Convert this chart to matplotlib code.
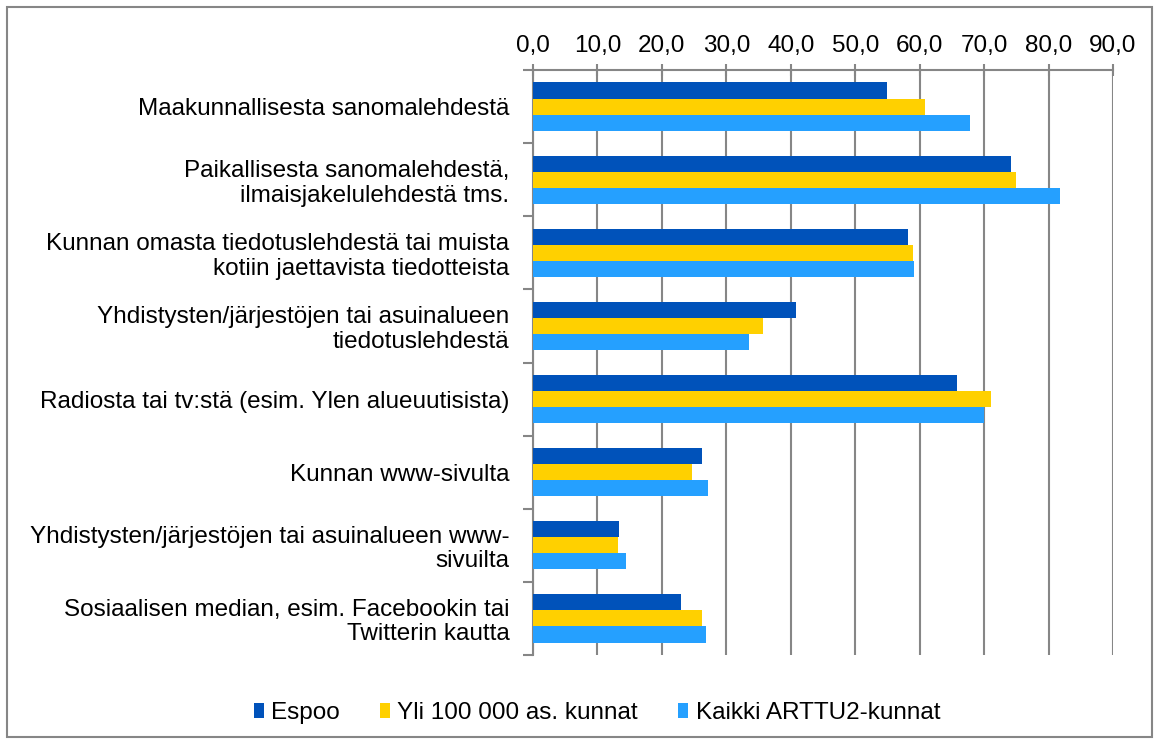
import numpy as np
import matplotlib.pyplot as plt
from matplotlib.patches import Rectangle

plt.rcParams['font.family'] = ['Liberation Sans', 'DejaVu Sans']

# Kategoriat ja arvot (%)
categories = [
    "Maakunnallisesta sanomalehdestä",
    "Paikallisesta sanomalehdestä,\nilmaisjakelulehdestä tms.",
    "Kunnan omasta tiedotuslehdestä tai muista\nkotiin jaettavista tiedotteista",
    "Yhdistysten/järjestöjen tai asuinalueen\ntiedotuslehdestä",
    "Radiosta tai tv:stä (esim. Ylen alueuutisista)",
    "Kunnan www-sivulta",
    "Yhdistysten/järjestöjen tai asuinalueen www-\nsivuilta",
    "Sosiaalisen median, esim. Facebookin tai\nTwitterin kautta",
]
espoo = [54.9, 74.2, 58.2, 40.8, 65.8, 26.3, 13.4, 22.9]
yli100 = [60.8, 74.9, 59.0, 35.7, 71.1, 24.7, 13.2, 26.3]
kaikki = [67.8, 81.7, 59.1, 33.5, 70.0, 27.1, 14.4, 26.8]
series_names = ["Espoo", "Yli 100 000 as. kunnat", "Kaikki ARTTU2-kunnat"]
colors = ["#0052BA", "#FFD000", "#25A0FF"]
xticks = np.arange(0, 91, 10)

fs = 17.5

fig = plt.figure(figsize=(11.59, 7.44), dpi=100)
ax = fig.add_axes([533 / 1159, 1 - 655 / 744, 580 / 1159, 585 / 744])

# reunus koko kuvan ympärille
fig.patches.append(Rectangle((7 / 1159, 7 / 744), 1145 / 1159, 730 / 744,
                             transform=fig.transFigure, fill=False,
                             edgecolor="#868686", linewidth=1.5))

y = np.arange(len(categories))
h = 0.22
for i, (vals, name, c) in enumerate(zip([espoo, yli100, kaikki], series_names, colors)):
    ax.barh(y + (i - 1) * h, vals, height=h, color=c, label=name, zorder=3)

ax.set_xlim(0, 90)
ax.set_ylim(len(categories) - 0.5, -0.5)
ax.xaxis.tick_top()
ax.set_xticks(xticks)
ax.set_xticklabels([f"{v:.1f}".replace(".", ",") for v in xticks], fontsize=fs)
ax.tick_params(axis="x", direction="inout", length=9, width=1.5, color="#868686", pad=5)
ax.grid(axis="x", color="#868686", linewidth=1.5, zorder=0)

ax.set_yticks(y)
ax.set_yticklabels(categories, fontsize=fs, ha="right", multialignment="right",
                   linespacing=1.15)
ax.tick_params(axis="y", length=0, pad=17)
ax.set_yticks(np.arange(-0.5, len(categories)), minor=True)
ax.tick_params(axis="y", which="minor", direction="out", length=7, width=1.5, color="#868686")

for s in ["right", "bottom"]:
    ax.spines[s].set_visible(False)
for s in ["top", "left"]:
    ax.spines[s].set_color("#868686")
    ax.spines[s].set_linewidth(1.5)

fig.legend(loc="center", bbox_to_anchor=(0.515, 1 - 713 / 744), ncol=3, frameon=False,
           fontsize=fs, handlelength=0.42, handleheight=0.55, handletextpad=0.3,
           columnspacing=1.65)

fig.savefig("out.png", dpi=100)
